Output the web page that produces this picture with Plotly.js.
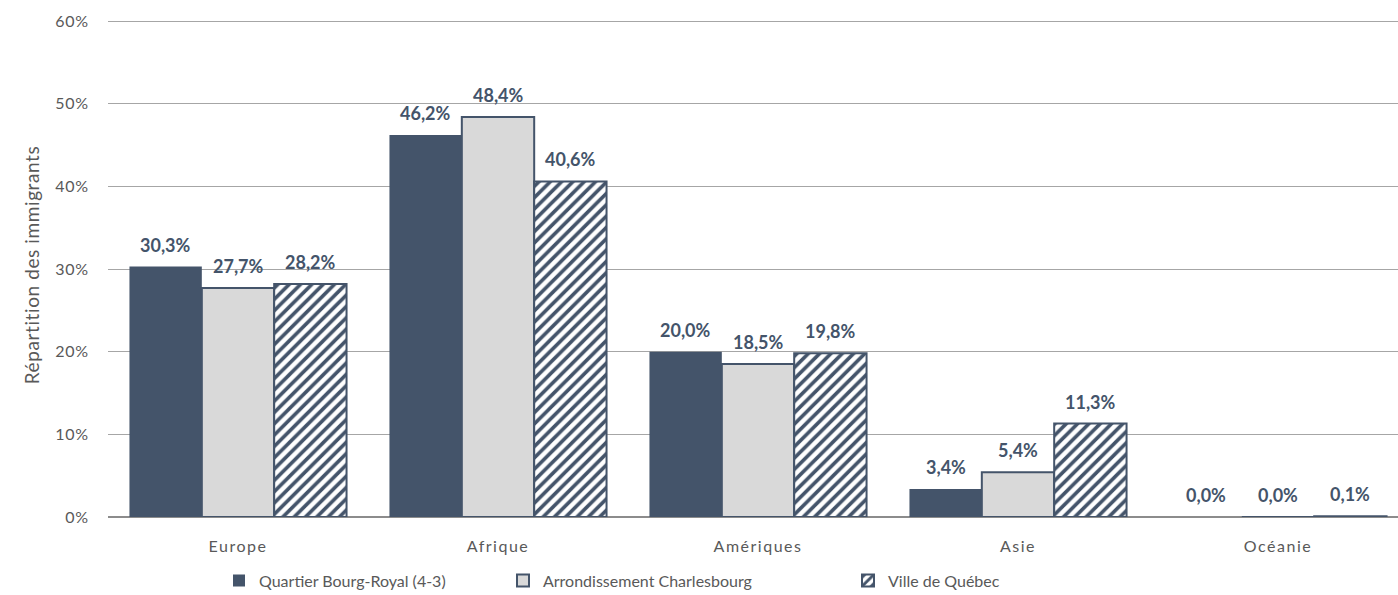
<!DOCTYPE html>
<html>
<head>
<meta charset="utf-8">
<script src="https://cdn.plot.ly/plotly-3.0.1.min.js"></script>
<style>
html,body{margin:0;padding:0;background:#fff;}
#chart{width:1398px;height:595px;}
#chart .xtick text{letter-spacing:1.5px;}
#chart .ytick text{letter-spacing:0.8px;}
#chart .ytitle{letter-spacing:0.6px;}
</style>
</head>
<body>
<div id="chart"></div>
<script>
const categories = ["Europe", "Afrique", "Amériques", "Asie", "Océanie"];
const seriesNames = ["Quartier Bourg-Royal (4-3)", "Arrondissement Charlesbourg", "Ville de Québec"];
const bourgRoyal = [0.303, 0.462, 0.200, 0.034, 0.000];
const charlesbourg = [0.277, 0.484, 0.185, 0.054, 0.000];
const villeQuebec = [0.282, 0.406, 0.198, 0.113, 0.001];
const yTickVals = [0, 0.1, 0.2, 0.3, 0.4, 0.5, 0.6];

const dark = "#44546A";
const font = "Lato, 'Open Sans', sans-serif";
const labelFont = {family: font, size: 18, color: dark, weight: 700};
const bargap = 0.165;

const common = {
  type: "bar",
  x: categories,
  hoverinfo: "skip"
};

const traces = [
  Object.assign({}, common, {
    name: seriesNames[0], y: bourgRoyal,
    marker: {color: dark, line: {color: dark, width: 0}},
    legend: "legend"
  }),
  Object.assign({}, common, {
    name: seriesNames[1], y: charlesbourg,
    marker: {color: "#D9D9D9", line: {color: dark, width: 2}},
    legend: "legend2"
  }),
  Object.assign({}, common, {
    name: seriesNames[2], y: villeQuebec,
    marker: {color: "#ffffff", line: {color: dark, width: 2},
             pattern: {shape: "/", fgcolor: dark, bgcolor: "#ffffff", size: 8, solidity: 0.45}},
    legend: "legend3"
  })
];

// data labels from the series arrays
const plotW = 1398 - 108;
const xRange = [-0.5, 4.4615];
const catPx = plotW / (xRange[1] - xRange[0]);
const barPx = catPx * (1 - bargap) / 3;
const fmt = v => (v * 100).toFixed(1).replace(".", ",") + "%";
const annotations = [];
[bourgRoyal, charlesbourg, villeQuebec].forEach((vals, s) => {
  vals.forEach((v, i) => {
    annotations.push({
      x: categories[i], y: v, xref: "x", yref: "y",
      text: "<b>" + fmt(v) + "</b>",
      showarrow: false, yanchor: "bottom", xanchor: "center",
      xshift: (s - 1) * barPx, yshift: 9,
      font: labelFont
    });
  });
});

const legendBase = {orientation: "h", yanchor: "middle", y: -0.126, xanchor: "left",
  font: {family: font, size: 16, color: "#595959"}, itemwidth: 30, bgcolor: "rgba(0,0,0,0)",
  tracegroupgap: 0, itemclick: false};

const layout = {
  width: 1398, height: 595,
  margin: {l: 108, r: 0, t: 13, b: 78, autoexpand: false},
  paper_bgcolor: "#ffffff", plot_bgcolor: "#ffffff",
  separators: ", ",
  barmode: "group",
  bargap: bargap,
  bargroupgap: 0,
  font: {family: font, color: "#595959"},
  xaxis: {
    type: "category",
    automargin: false,
    range: xRange,
    showgrid: false, zeroline: false, showline: false,
    ticks: "",
    tickfont: {family: font, size: 16, color: "#595959"},
    ticklabelstandoff: 18
  },
  yaxis: {
    automargin: false,
    range: [0, 0.6097],
    tickvals: yTickVals,
    tickformat: ".0%",
    showgrid: true, gridcolor: "#A6A6A6", gridwidth: 1,
    zeroline: true, zerolinecolor: "#8C8C8C", zerolinewidth: 1.5,
    showline: false,
    ticks: "",
    ticklabelstandoff: 18,
    tickfont: {family: font, size: 16, color: "#595959"},
    title: {text: "Répartition des immigrants", font: {family: font, size: 19, color: "#595959"}, standoff: 12}
  },
  annotations: annotations,
  showlegend: true,
  legend: Object.assign({}, legendBase, {x: (219 - 108) / plotW}),
  legend2: Object.assign({}, legendBase, {x: (503 - 108) / plotW}),
  legend3: Object.assign({}, legendBase, {x: (848 - 108) / plotW})
};

Plotly.newPlot("chart", traces, layout, {displayModeBar: false, staticPlot: true});
</script>
</body>
</html>
